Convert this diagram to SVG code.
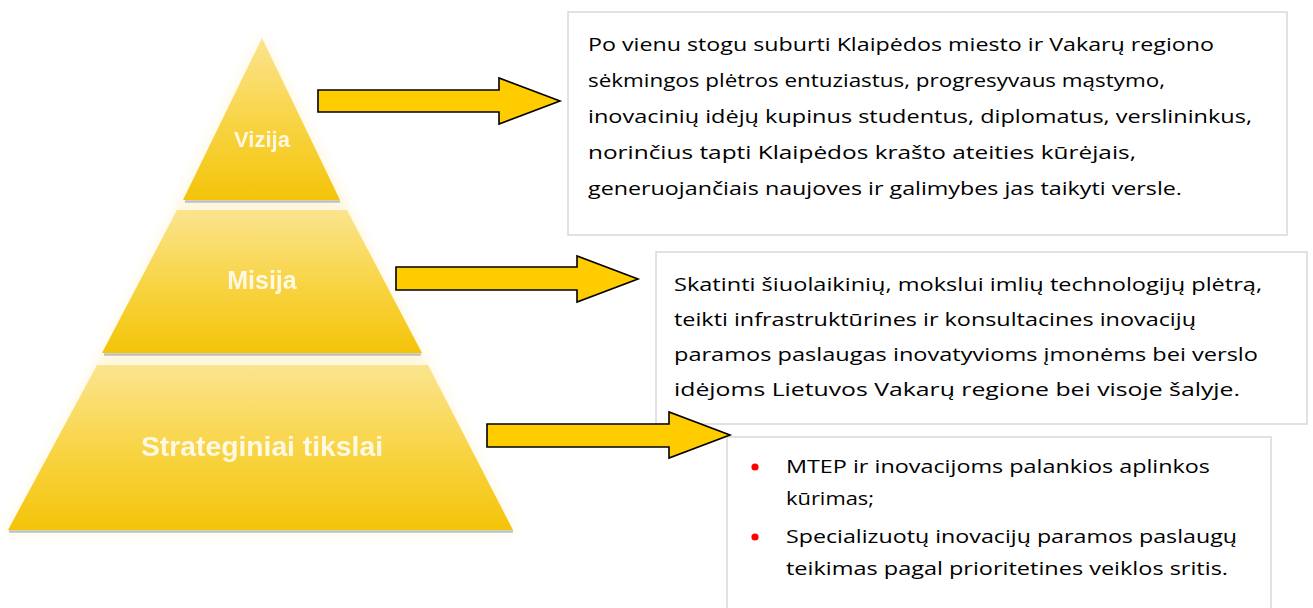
<svg xmlns="http://www.w3.org/2000/svg" width="1313" height="608" viewBox="0 0 1313 608">
<style>
.box{fill:#ffffff;stroke:#d9d9d9;stroke-width:1.5}
.txt{font-family:"Open Sans","Liberation Sans",sans-serif;font-size:19px;fill:#000000}
.lbl{font-family:"Liberation Sans",Arial,sans-serif;font-weight:bold;fill:#ffffff;fill-opacity:0.85;text-anchor:middle}
.arrow{fill:#ffcc00;stroke:#000000;stroke-width:1.6;stroke-linejoin:miter}
.shadow{fill:none;stroke:#8c939b;stroke-width:2.5;stroke-opacity:0.55}
.bullet{fill:#ff0000}
</style>
<defs>
<linearGradient id="tier" x1="0" y1="0" x2="0" y2="1">
<stop offset="0" stop-color="#fbe48f"/>
<stop offset="0.55" stop-color="#f8d340"/>
<stop offset="1" stop-color="#f4c409"/>
</linearGradient>
<filter id="glow" x="-20%" y="-20%" width="140%" height="140%">
<feGaussianBlur stdDeviation="6"/>
</filter>
<filter id="soft" x="-5%" y="-20%" width="110%" height="140%">
<feGaussianBlur stdDeviation="0.5"/>
</filter>
</defs>

<g id="pyramid-glow" opacity="0.35" filter="url(#glow)">
<polygon points="262,36 345,200 430,365 516,532 6,532 95,365 180,200" fill="#fbe9a6"/>
</g>

<g id="tier-vizija">
<line class="shadow" x1="185" y1="201.5" x2="340" y2="201.5"/>
<polygon points="262,38 340,200 183,200" fill="url(#tier)"/>
<text class="lbl" x="262" y="147" font-size="22" filter="url(#soft)">Vizija</text>
</g>

<g id="tier-misija">
<line class="shadow" x1="104" y1="354.5" x2="421" y2="354.5"/>
<polygon points="177,210 347,210 422,353 102,353" fill="url(#tier)"/>
<text class="lbl" x="262" y="289" font-size="25" filter="url(#soft)">Misija</text>
</g>

<g id="tier-strateginiai">
<line class="shadow" x1="9" y1="531.5" x2="513" y2="531.5"/>
<polygon points="97,365 428,365 513,530 8,530" fill="url(#tier)"/>
<text class="lbl" x="262" y="456" font-size="27" textLength="242" lengthAdjust="spacingAndGlyphs" filter="url(#soft)">Strateginiai tikslai</text>
</g>

<g id="box-vizija">
<rect class="box" x="568" y="12" width="719" height="223"/>
<text class="txt" x="588" y="51" textLength="626" lengthAdjust="spacingAndGlyphs">Po vienu stogu suburti Klaipėdos miesto ir Vakarų regiono</text>
<text class="txt" x="588" y="87" textLength="577" lengthAdjust="spacingAndGlyphs">sėkmingos plėtros entuziastus, progresyvaus mąstymo,</text>
<text class="txt" x="588" y="123" textLength="664" lengthAdjust="spacingAndGlyphs">inovacinių idėjų kupinus studentus, diplomatus, verslininkus,</text>
<text class="txt" x="588" y="159" textLength="548" lengthAdjust="spacingAndGlyphs">norinčius tapti Klaipėdos krašto ateities kūrėjais,</text>
<text class="txt" x="588" y="195" textLength="594" lengthAdjust="spacingAndGlyphs">generuojančiais naujoves ir galimybes jas taikyti versle.</text>
</g>

<g id="box-misija">
<rect class="box" x="656" y="252" width="651" height="172"/>
<text class="txt" x="674" y="291" textLength="588" lengthAdjust="spacingAndGlyphs">Skatinti šiuolaikinių, mokslui imlių technologijų plėtrą,</text>
<text class="txt" x="674" y="326" textLength="522" lengthAdjust="spacingAndGlyphs">teikti infrastruktūrines ir konsultacines inovacijų</text>
<text class="txt" x="674" y="361" textLength="584" lengthAdjust="spacingAndGlyphs">paramos paslaugas inovatyvioms įmonėms bei verslo</text>
<text class="txt" x="674" y="396" textLength="566" lengthAdjust="spacingAndGlyphs">idėjoms Lietuvos Vakarų regione bei visoje šalyje.</text>
</g>

<g id="box-tikslai">
<rect class="box" x="727" y="437" width="544" height="190"/>
<circle class="bullet" cx="755" cy="467" r="3.6"/>
<circle class="bullet" cx="755" cy="537" r="3.6"/>
<text class="txt" x="786" y="473" textLength="424" lengthAdjust="spacingAndGlyphs">MTEP ir inovacijoms palankios aplinkos</text>
<text class="txt" x="786" y="505" textLength="88" lengthAdjust="spacingAndGlyphs">kūrimas;</text>
<text class="txt" x="786" y="543" textLength="451" lengthAdjust="spacingAndGlyphs">Specializuotų inovacijų paramos paslaugų</text>
<text class="txt" x="786" y="575" textLength="442" lengthAdjust="spacingAndGlyphs">teikimas pagal prioritetines veiklos sritis.</text>
</g>

<g id="connectors">
<polygon class="arrow" points="318,90 499,90 499,78 560,101 499,124 499,112 318,112"/>
<polygon class="arrow" points="396,267 577,267 577,256 638,279 577,302 577,290 396,290"/>
<polygon class="arrow" points="487,424 669,424 669,412 730,435 669,458 669,447 487,447"/>
</g>
</svg>
